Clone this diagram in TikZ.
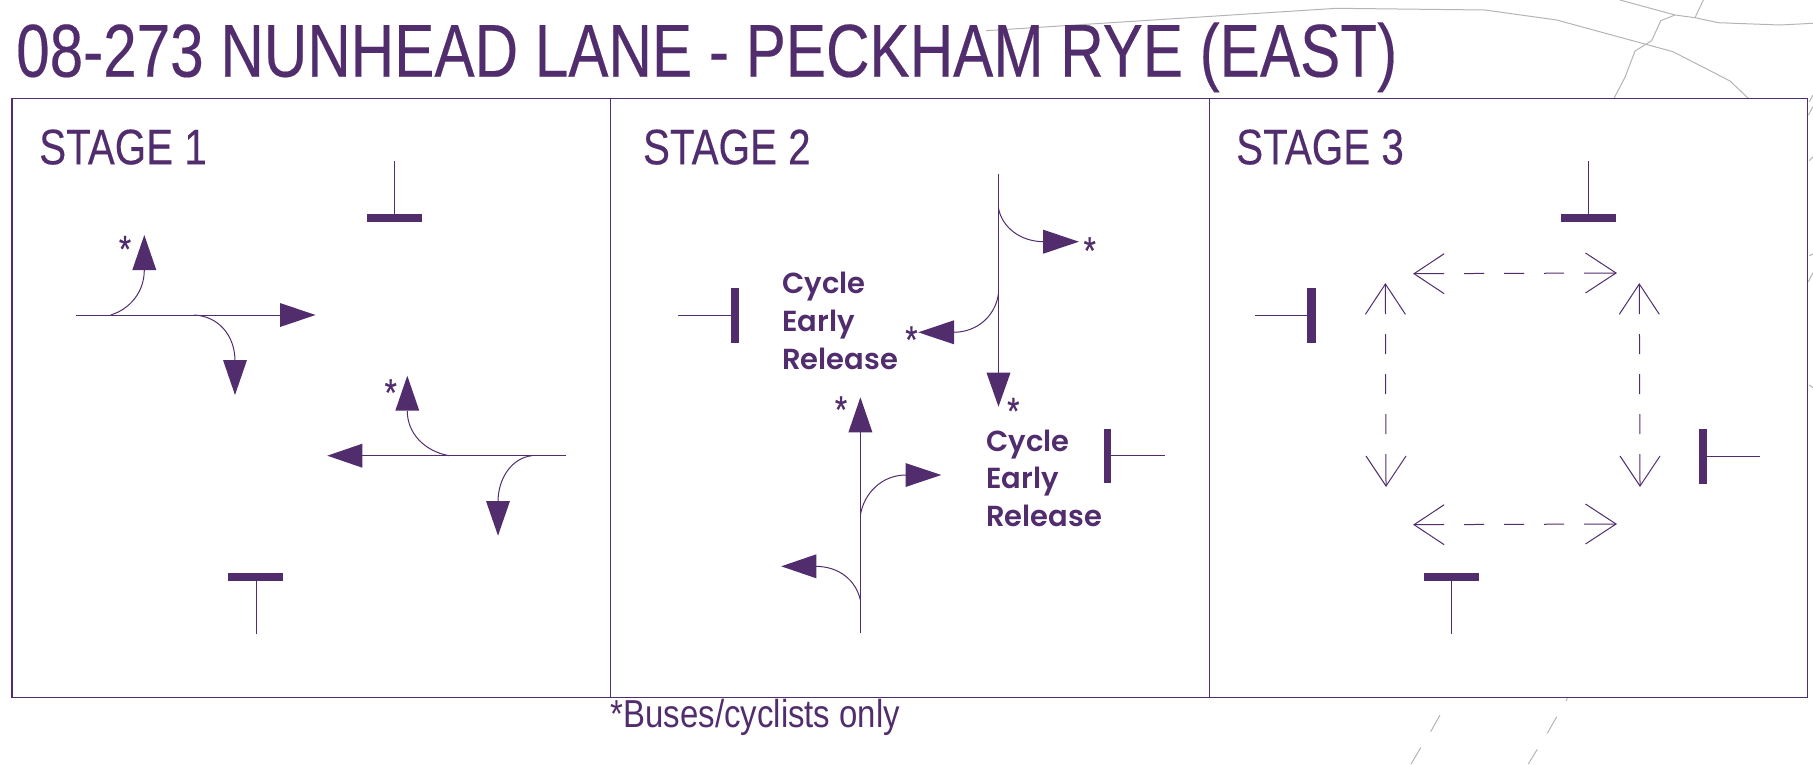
\documentclass[tikz,border=0pt]{standalone}
\usepackage{fontspec}
\setmainfont{Liberation Sans}
\newfontfamily\titlefont[FakeStretch=0.803,FakeBold=0.25]{Liberation Sans}
\newfontfamily\stagefont[FakeStretch=0.808,FakeBold=0.2]{Liberation Sans}
\newfontfamily\notefont[FakeStretch=0.845]{Liberation Sans}
\newfontfamily\starfont[FakeStretch=0.82,FakeBold=0.5]{Liberation Sans}
\newfontfamily\popfont{Poppins}[UprightFont=* SemiBold]
\definecolor{pm}{HTML}{512D6D}
\definecolor{road}{HTML}{B4B4B4}
\tikzset{
  frameline/.style={draw=pm,line width=1.3pt},
  stem/.style={draw=pm,line width=1pt},
  curveline/.style={draw=pm,line width=1pt},
  solidhead/.style={fill=pm,draw=none},
  openhead/.style={draw=pm,line width=1pt,line join=miter},
  bar/.style={fill=pm,draw=none},
  roadline/.style={draw=road,line width=1pt},
  titletext/.style={anchor=base west,inner sep=0pt,text=pm,font=\titlefont\fontsize{75}{80}\selectfont},
  stagetext/.style={anchor=base west,inner sep=0pt,text=pm,font=\stagefont\fontsize{50}{55}\selectfont},
  notetext/.style={anchor=base west,inner sep=0pt,text=pm,font=\notefont\fontsize{39}{42}\selectfont},
  startext/.style={inner sep=0pt,text=pm,yshift=-2pt,font=\starfont\fontsize{38}{38}\selectfont},
  cycletext/.style={anchor=base west,inner sep=0pt,text=pm,font=\popfont\fontsize{29}{30}\selectfont},
}
% solid arrow heads: tip, base, position across
\newcommand{\headH}[3]{\fill[solidhead] (#1,#3) -- (#2,#3-12) -- (#2,#3+12) -- cycle;}
\newcommand{\headV}[3]{\fill[solidhead] (#3,#1) -- (#3-12,#2) -- (#3+12,#2) -- cycle;}
% open arrow heads
\newcommand{\openH}[3]{\draw[openhead] (#2,#3-20) -- (#1,#3) -- (#2,#3+20);}
\newcommand{\openV}[3]{\draw[openhead] (#3-20,#2) -- (#3,#1) -- (#3+20,#2);}
\begin{document}
\begin{tikzpicture}[x=1pt,y=-1pt]
\useasboundingbox (0,0) rectangle (1813,764);
% background roads
\draw[roadline] (986,30.7) -- (1336.7,8.3) -- (1485,10) -- (1556.7,20) -- (1673,51.7) -- (1730,81) -- (1748.3,98.3);
\draw[roadline] (1620,0) -- (1675,15) -- (1695,17.7) -- (1718.3,22.7) -- (1780,25) -- (1813,23.3);
\draw[roadline] (1703.3,0) -- (1695,17.7);
\draw[roadline] (1675,15) -- (1660.7,20.7) -- (1651.7,40.7) -- (1635,51) -- (1625,77.3) -- (1614,98.3);
\draw[roadline] (1809.3,101.7) -- (1813,95);
\draw[roadline] (1808.3,115) -- (1813,106.7);
\draw[roadline] (1809.3,160.7) -- (1813,156.7);
\draw[roadline] (1809.3,255.7) -- (1813,254);
\draw[roadline] (1808.3,281.7) -- (1813,272.7);
\draw[roadline] (1809,385) -- (1813,387.7);
\draw[roadline] (1440,715) -- (1430.7,731.7);
\draw[roadline] (1420.7,747.7) -- (1411,764);
\draw[roadline] (1556.7,716.7) -- (1547.3,733.3);
\draw[roadline] (1537.3,749.3) -- (1528.3,764);
\draw[roadline] (1567.3,698.3) -- (1566,701);
% title and frame
\node[titletext] (title) at (16,76.7) {08-273 NUNHEAD LANE - PECKHAM RYE (EAST)};
\draw[frameline] (11.9,98.5) rectangle (1807.7,697.7);
\draw[frameline] (610.5,98.5) -- (610.5,697.7);
\draw[frameline] (1209.4,98.5) -- (1209.4,697.7);
\node[stagetext] (s1) at (39,164.3) {STAGE 1};
\node[stagetext] (s2) at (642.8,164.3) {STAGE 2};
\node[stagetext] (s3) at (1236,164.3) {STAGE 3};
\node[notetext] (note) at (610.5,727.3) {*Buses/cyclists only};
% STAGE 1
\draw[stem] (394.2,161) -- (394.2,214);
\fill[bar] (366.5,214) rectangle (421.5,221.7);
\draw[stem] (256,580) -- (256,634);
\fill[bar] (228.3,572.7) rectangle (283.3,580.7);
\draw[stem] (76,315) -- (282,315);
\headH{315.5}{280}{315}
\draw[curveline] (110.7,315) .. controls (130,309) and (144.3,292) .. (144.3,270);
\headV{235}{270}{144.3}
\draw[curveline] (194,315) .. controls (218,316) and (235,335) .. (235,361);
\headV{395}{360}{235}
\node[startext] (a1) at (125,247) {*};
\draw[stem] (566,455.7) -- (361,455.7);
\headH{327.3}{362.3}{455.7}
\draw[curveline] (449,455.7) .. controls (424,451) and (407.3,433) .. (407.3,411);
\headV{375.7}{410.7}{407.3}
\node[startext] (a2) at (390.7,390.5) {*};
\draw[curveline] (531.7,455.7) .. controls (512,458) and (498,478) .. (498,502);
\headV{535.7}{501}{498}
% STAGE 2
\draw[stem] (998.5,174) -- (998.5,374);
\headV{406.7}{372.7}{998.5}
\draw[curveline] (998.5,208.3) .. controls (1002,227) and (1020,241.7) .. (1044,241.7);
\headH{1079}{1043.2}{241.7}
\node[startext] (a3) at (1089.7,248.5) {*};
\draw[curveline] (998.5,293.3) .. controls (996,314) and (979,332.3) .. (953,332.3);
\headH{918.2}{954}{332.3}
\node[startext] (a4) at (911.4,337.5) {*};
\node[startext] (a5) at (1013.3,409) {*};
\draw[stem] (677.9,315) -- (732,315);
\fill[bar] (731.3,287.7) rectangle (739.2,342.7);
\node[cycletext] (c1) at (782,293.3) {Cycle};
\node[cycletext] (c2) at (782,331.7) {Early};
\node[cycletext] (c3) at (782,369) {Release};
\node[cycletext] (c4) at (986,451.7) {Cycle};
\node[cycletext] (c5) at (986,488.3) {Early};
\node[cycletext] (c6) at (986,526.7) {Release};
\draw[stem] (860.4,633.3) -- (860.4,431);
\headV{397.3}{432.3}{860.4}
\node[startext] (a6) at (841,407.5) {*};
\draw[curveline] (860.4,515) .. controls (864,493) and (882,475) .. (906,475);
\headH{941.3}{905.5}{475}
\draw[curveline] (860.4,600) .. controls (856,581) and (840,566.3) .. (815,566.3);
\headH{781.2}{816.3}{566.3}
\fill[bar] (1103.5,428.7) rectangle (1111.4,483.3);
\draw[stem] (1111,455.7) -- (1164.5,455.7);
% STAGE 3
\draw[stem] (1588.3,161) -- (1588.3,214);
\fill[bar] (1561,214) rectangle (1615.7,221.7);
\draw[stem] (1254.5,315.3) -- (1308,315.3);
\fill[bar] (1307.3,287.7) rectangle (1315.5,342.7);
\fill[bar] (1699.2,428.7) rectangle (1707.4,483.7);
\draw[stem] (1707,456) -- (1760,456);
\draw[stem] (1451,580) -- (1451,634);
\fill[bar] (1423.5,572.7) rectangle (1478.5,580.7);
\tikzset{ped/.style={draw=pm,line width=1pt,dash pattern=on 30pt off 20pt on 20pt off 20pt on 20pt off 20pt on 20pt off 20pt on 31pt off 1pt}}
\draw[ped] (1414,273.7) -- (1616,273);
\openH{1414}{1444.2}{273.7}
\openH{1616}{1585.5}{273}
\draw[ped] (1414,524.7) -- (1616,524);
\openH{1414}{1444.2}{524.7}
\openH{1616}{1585.5}{524}
\draw[ped] (1385.4,284) -- (1386,486);
\openV{284}{314.3}{1385.4}
\openV{486}{456}{1386}
\draw[ped] (1639.3,284) -- (1640,486);
\openV{284}{314.3}{1639.3}
\openV{486}{456}{1640}
\end{tikzpicture}
\end{document}
